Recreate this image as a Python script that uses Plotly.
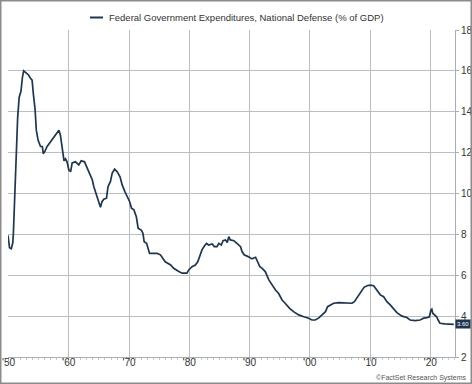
import plotly.graph_objects as go

# Data (decimal year, % of GDP)
years = [1949.9, 1950.15, 1950.45, 1950.7, 1950.8, 1951.0, 1951.25, 1951.5, 1951.75, 1952.05,
         1952.3, 1952.5, 1952.9, 1953.3, 1953.6, 1953.9, 1954.1, 1954.4, 1954.6, 1954.9,
         1955.3, 1955.6, 1955.75, 1956.0, 1956.4, 1957.0, 1957.5, 1958.1, 1958.35, 1958.6,
         1958.9, 1959.2, 1959.45, 1959.7, 1960.0, 1960.3, 1960.55, 1961.1, 1961.65, 1962.05,
         1962.6, 1963.05, 1963.5, 1963.9, 1964.15, 1964.6, 1964.9, 1965.25, 1965.5, 1965.8,
         1966.25, 1966.5, 1966.9, 1967.2, 1967.6, 1968.0, 1968.5, 1968.85, 1969.3, 1969.7,
         1970.1, 1970.4, 1970.8, 1971.2, 1971.5, 1972.05, 1972.3, 1972.5, 1972.9, 1973.15,
         1973.4, 1974.0, 1974.65, 1975.2, 1975.5, 1976.0, 1976.9, 1977.4, 1978.25, 1978.8,
         1979.6, 1979.9, 1980.45, 1981.0, 1981.4, 1981.85, 1982.1, 1982.5, 1982.85, 1983.2,
         1983.8, 1984.15, 1984.6, 1984.9, 1985.3, 1985.6, 1986.0, 1986.3, 1986.55, 1986.8,
         1987.4, 1987.9, 1988.5, 1988.75, 1989.1, 1989.85, 1990.4, 1991.0, 1991.35, 1991.7,
         1992.1, 1992.6, 1993.2, 1993.55, 1994.3, 1994.8, 1995.4, 1995.9, 1996.65, 1997.3,
         1998.15, 1999.0, 1999.8, 2000.35, 2000.9, 2001.45, 2002.0, 2002.6, 2002.95, 2003.4,
         2003.95, 2004.8, 2005.6, 2006.4, 2007.0, 2007.4, 2007.9, 2008.5, 2009.0, 2009.6,
         2010.0, 2010.6, 2011.15, 2011.7, 2012.25, 2012.8, 2013.35, 2013.9, 2014.45, 2015.3,
         2016.1, 2016.65, 2017.5, 2018.3, 2018.9, 2019.45, 2019.85, 2020.1, 2020.25, 2020.4,
         2020.6, 2021.05, 2021.3, 2021.6, 2022.4, 2023.2, 2023.9]
defense_pct_gdp = [7.95, 7.35, 7.3, 7.6, 8.1, 10.0, 11.8, 13.7, 14.7, 15.0,
                   15.7, 16.0, 15.9, 15.8, 15.65, 15.55, 14.9, 14.1, 13.1, 12.6,
                   12.3, 12.3, 11.95, 12.05, 12.3, 12.55, 12.8, 13.0, 13.1, 12.85,
                   12.3, 11.6, 11.7, 11.55, 11.15, 11.07, 11.5, 11.55, 11.4, 11.6,
                   11.55, 11.23, 11.0, 10.66, 10.33, 9.93, 9.68, 9.33, 9.6, 9.72,
                   9.77, 10.33, 10.58, 11.0, 11.19, 11.07, 10.82, 10.42, 10.09, 9.88,
                   9.6, 9.28, 9.2, 8.87, 8.3, 8.2, 8.05, 7.64, 7.56, 7.32,
                   7.07, 7.07, 7.07, 7.0, 6.88, 6.66, 6.5, 6.34, 6.18, 6.1,
                   6.1, 6.26, 6.42, 6.5, 6.66, 7.0, 7.24, 7.43, 7.56, 7.48,
                   7.53, 7.4, 7.4, 7.56, 7.48, 7.69, 7.73, 7.6, 7.89, 7.73,
                   7.69, 7.56, 7.4, 7.16, 7.0, 6.9, 6.8, 6.88, 6.66, 6.42,
                   6.34, 6.18, 5.77, 5.61, 5.28, 5.12, 4.79, 4.63, 4.38, 4.22,
                   4.06, 3.97, 3.9, 3.81, 3.81, 3.9, 4.06, 4.22, 4.46, 4.55,
                   4.63, 4.66, 4.66, 4.63, 4.63, 4.71, 4.95, 5.2, 5.41, 5.5,
                   5.52, 5.49, 5.28, 5.04, 4.95, 4.71, 4.55, 4.34, 4.17, 4.0,
                   3.93, 3.81, 3.78, 3.81, 3.9, 3.93, 3.97, 4.3, 4.34, 4.14,
                   4.09, 3.97, 3.81, 3.65, 3.62, 3.62, 3.60]

x_tick_vals = [1950, 1960, 1970, 1980, 1990, 2000, 2010, 2020]
x_tick_text = ["'50", "'60", "'70", "'80", "'90", "'00", "'10", "'20"]
y_tick_vals = [2, 4, 6, 8, 10, 12, 14, 16, 18]
series_name = "Federal Government Expenditures, National Defense (% of GDP)"
last_label = "3.60"

W, H = 472, 384
L, R, T, B = 8, 455, 30, 357
LINE = "#1d3652"
GRID = "#b8bec5"
FONT = "Liberation Sans, Arial, sans-serif"


def px_x(p):
    return (p - L) / (R - L)


def px_y(p):
    return (B - p) / (B - T)


fig = go.Figure()
fig.add_trace(go.Scatter(x=years, y=defense_pct_gdp, mode="lines", name=series_name,
                         line=dict(color=LINE, width=1.7), showlegend=False))

fig.update_layout(
    width=W, height=H,
    margin=dict(l=L, r=W - R, t=T, b=H - B, pad=0, autoexpand=False),
    paper_bgcolor="white", plot_bgcolor="white",
    font=dict(family=FONT, size=10, color="#333333"),
    xaxis=dict(range=[1949.9, 2024.1], tickvals=x_tick_vals, ticktext=x_tick_text,
               automargin=False,
               showgrid=True, gridcolor=GRID, gridwidth=1, zeroline=False,
               showline=True, linecolor="#a9aeb3", linewidth=1,
               ticks="outside", ticklen=3, tickcolor="#a9aeb3",
               ticklabelstandoff=-7,
               minor=dict(dtick=1, tick0=1950, ticks="outside", ticklen=2, tickcolor="#c8c8c8", showgrid=False),
               tickfont=dict(size=10, color="#333333")),
    yaxis=dict(range=[2, 18], tickvals=y_tick_vals, side="right",
               automargin=False,
               showgrid=True, gridcolor=GRID, gridwidth=1, zeroline=False,
               showline=True, linecolor="#a9aeb3", linewidth=1,
               ticks="outside", ticklen=3, tickcolor="#a9aeb3",
               tickfont=dict(size=10, color="#333333")),
    shapes=[
        # outer frame
        dict(type="rect", xref="paper", yref="paper",
             x0=px_x(0.75), x1=px_x(W - 0.75), y0=px_y(H - 0.75), y1=px_y(0.75),
             line=dict(color="#8c8c8c", width=1.5), fillcolor="rgba(0,0,0,0)", layer="above"),
        # legend sample line
        dict(type="line", xref="paper", yref="paper",
             x0=px_x(90), x1=px_x(103), y0=px_y(17.5), y1=px_y(17.5),
             line=dict(color=LINE, width=2)),
    ],
    annotations=[
        dict(text=series_name, xref="paper", yref="paper", x=px_x(107), y=px_y(17.5),
             xanchor="left", yanchor="middle", showarrow=False,
             font=dict(size=9.5, color="#333333", family=FONT)),
        dict(text="©FactSet Research Systems", xref="paper", yref="paper",
             x=px_x(468), y=px_y(378), xanchor="right", yanchor="middle", showarrow=False,
             font=dict(size=7, color="#555555", family=FONT)),
        dict(text=last_label, xref="paper", yref="y", x=px_x(455), y=defense_pct_gdp[-1],
             xanchor="left", yanchor="middle", showarrow=False, bgcolor=LINE,
             borderpad=1, font=dict(size=6, color="white", family=FONT)),
    ],
)

fig.write_html("out.html", config={"displayModeBar": False},
               post_script="document.body.style.margin='0';document.body.style.overflow='hidden';")
